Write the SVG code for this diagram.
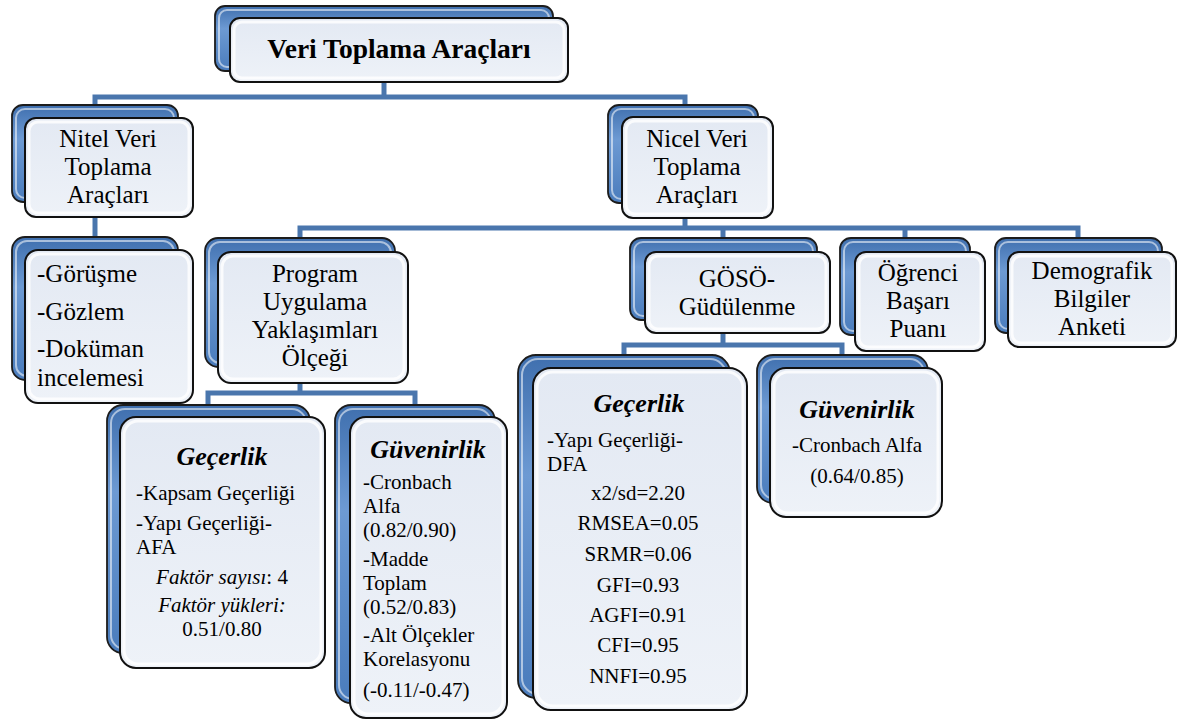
<svg xmlns="http://www.w3.org/2000/svg" width="1178" height="720" viewBox="0 0 1178 720">
<defs>
<linearGradient id="bg" x1="0" y1="0" x2="0" y2="1">
<stop offset="0" stop-color="#3f6fae"/>
<stop offset="0.35" stop-color="#6d9ad3"/>
<stop offset="1" stop-color="#4a7cbc"/>
</linearGradient>
<linearGradient id="fg" x1="0" y1="0" x2="0" y2="1">
<stop offset="0" stop-color="#e3e9f3"/>
<stop offset="1" stop-color="#eef2f8"/>
</linearGradient>
<style>
.bk{fill:url(#bg);stroke:#1c1c1c;stroke-width:1.8}
.bkh{fill:none;stroke:#ffffff;stroke-opacity:0.55;stroke-width:2}
.fr{fill:url(#fg);stroke:#111111;stroke-width:2}
.frh{fill:none;stroke:#ffffff;stroke-opacity:0.8;stroke-width:3}
.cn{fill:none;stroke:#4a76ad;stroke-width:5;stroke-linejoin:miter}
.tx{font-family:'Liberation Serif','Times New Roman',Times,'Tinos','Nimbus Roman','FreeSerif','Noto Serif','DejaVu Serif',serif;fill:#000000}
.t{font-size:25px;text-anchor:middle}
.l{font-size:25px}
.s{font-size:21px}
.sc{font-size:21px;text-anchor:middle}
.h{font-size:26px;font-weight:bold;font-style:italic;text-anchor:middle}
.top{font-size:27.5px;font-weight:bold;text-anchor:middle}
</style>
</defs>
<rect width="1178" height="720" fill="#ffffff"/>
<g id="connectors">
<path class="cn" d="M384 82 V97"/>
<path class="cn" d="M95 105 V97 H685 V105"/>
<path class="cn" d="M95 217 V238"/>
<path class="cn" d="M685 218 V228"/>
<path class="cn" d="M300 238 V228 H1078 V238"/>
<path class="cn" d="M723 228 V238"/>
<path class="cn" d="M905 228 V238"/>
<path class="cn" d="M300 383 V393"/>
<path class="cn" d="M208 405 V393 H415 V405"/>
<path class="cn" d="M723 333 V345"/>
<path class="cn" d="M624 355 V345 H842 V355"/>
</g>
<g class="tx">
<g id="n-root">
<rect class="bk" x="215" y="6" width="338" height="65" rx="10"/>
<rect class="bkh" x="219" y="10" width="330" height="57" rx="8"/>
<rect class="fr" x="230" y="18" width="338" height="64" rx="10"/>
<rect class="frh" x="234" y="22" width="330" height="56" rx="8"/>
<text class="top" x="399" y="58">Veri Toplama Araçları</text>
</g>
<g id="n-nitel">
<rect class="bk" x="12" y="105" width="166" height="97" rx="11"/>
<rect class="bkh" x="16" y="109" width="158" height="89" rx="9"/>
<rect class="fr" x="25" y="118" width="168" height="99" rx="11"/>
<rect class="frh" x="29" y="122" width="160" height="91" rx="9"/>
<text class="t" x="108" y="147">Nitel Veri</text>
<text class="t" x="108" y="175">Toplama</text>
<text class="t" x="108" y="203">Araçları</text>
</g>
<g id="n-nicel">
<rect class="bk" x="608" y="105" width="150" height="98" rx="11"/>
<rect class="bkh" x="612" y="109" width="142" height="90" rx="9"/>
<rect class="fr" x="622" y="117" width="151" height="101" rx="11"/>
<rect class="frh" x="626" y="121" width="143" height="93" rx="9"/>
<text class="t" x="697" y="147">Nicel Veri</text>
<text class="t" x="697" y="175">Toplama</text>
<text class="t" x="697" y="203">Araçları</text>
</g>
<g id="n-nitel-list">
<rect class="bk" x="12" y="237" width="166" height="143" rx="13"/>
<rect class="bkh" x="16" y="241" width="158" height="135" rx="11"/>
<rect class="fr" x="25" y="250" width="168" height="153" rx="13"/>
<rect class="frh" x="29" y="254" width="160" height="145" rx="11"/>
<text class="l" x="37" y="282">-Görüşme</text>
<text class="l" x="37" y="320">-Gözlem</text>
<text class="l" x="37" y="357">-Doküman</text>
<text class="l" x="37" y="386">incelemesi</text>
</g>
<g id="n-program">
<rect class="bk" x="205" y="238" width="190" height="129" rx="13"/>
<rect class="bkh" x="209" y="242" width="182" height="121" rx="11"/>
<rect class="fr" x="218" y="252" width="190" height="131" rx="13"/>
<rect class="frh" x="222" y="256" width="182" height="123" rx="11"/>
<text class="t" x="315" y="282">Program</text>
<text class="t" x="315" y="310">Uygulama</text>
<text class="t" x="315" y="338">Yaklaşımları</text>
<text class="t" x="315" y="366">Ölçeği</text>
</g>
<g id="n-goso">
<rect class="bk" x="630" y="238" width="187" height="82" rx="11"/>
<rect class="bkh" x="634" y="242" width="179" height="74" rx="9"/>
<rect class="fr" x="645" y="252" width="185" height="81" rx="11"/>
<rect class="frh" x="649" y="256" width="177" height="73" rx="9"/>
<text class="t" x="737" y="287">GÖSÖ-</text>
<text class="t" x="737" y="315">Güdülenme</text>
</g>
<g id="n-ogrenci">
<rect class="bk" x="840" y="238" width="130" height="97" rx="11"/>
<rect class="bkh" x="844" y="242" width="122" height="89" rx="9"/>
<rect class="fr" x="855" y="252" width="130" height="99" rx="11"/>
<rect class="frh" x="859" y="256" width="122" height="91" rx="9"/>
<text class="t" x="918" y="281">Öğrenci</text>
<text class="t" x="918" y="309">Başarı</text>
<text class="t" x="918" y="337">Puanı</text>
</g>
<g id="n-demografik">
<rect class="bk" x="995" y="238" width="167" height="95" rx="11"/>
<rect class="bkh" x="999" y="242" width="159" height="87" rx="9"/>
<rect class="fr" x="1008" y="252" width="168" height="95" rx="11"/>
<rect class="frh" x="1012" y="256" width="160" height="87" rx="9"/>
<text class="t" x="1092" y="279">Demografik</text>
<text class="t" x="1092" y="307">Bilgiler</text>
<text class="t" x="1092" y="335">Anketi</text>
</g>
<g id="n-pua-gecerlik">
<rect class="bk" x="107" y="405" width="203" height="248" rx="16"/>
<rect class="bkh" x="111" y="409" width="195" height="240" rx="14"/>
<rect class="fr" x="120" y="417" width="205" height="251" rx="16"/>
<rect class="frh" x="124" y="421" width="197" height="243" rx="14"/>
<text class="h" x="222" y="465">Geçerlik</text>
<text class="s" x="136" y="500">-Kapsam Geçerliği</text>
<text class="s" x="136" y="530">-Yapı Geçerliği-</text>
<text class="s" x="136" y="554">AFA</text>
<text class="sc" x="222" y="584"><tspan font-style="italic">Faktör sayısı</tspan>: 4</text>
<text class="sc" x="222" y="612" font-style="italic">Faktör yükleri:</text>
<text class="sc" x="222" y="636">0.51/0.80</text>
</g>
<g id="n-pua-guvenirlik">
<rect class="bk" x="335" y="405" width="160" height="298" rx="16"/>
<rect class="bkh" x="339" y="409" width="152" height="290" rx="14"/>
<rect class="fr" x="350" y="417" width="157" height="301" rx="16"/>
<rect class="frh" x="354" y="421" width="149" height="293" rx="14"/>
<text class="h" x="428" y="458">Güvenirlik</text>
<text class="s" x="363" y="489">-Cronbach</text>
<text class="s" x="363" y="513">Alfa</text>
<text class="s" x="363" y="537">(0.82/0.90)</text>
<text class="s" x="363" y="566">-Madde</text>
<text class="s" x="363" y="590">Toplam</text>
<text class="s" x="363" y="614">(0.52/0.83)</text>
<text class="s" x="363" y="642">-Alt Ölçekler</text>
<text class="s" x="363" y="666">Korelasyonu</text>
<text class="s" x="363" y="697">(-0.11/-0.47)</text>
</g>
<g id="n-goso-gecerlik">
<rect class="bk" x="518" y="355" width="212" height="343" rx="18"/>
<rect class="bkh" x="522" y="359" width="204" height="335" rx="16"/>
<rect class="fr" x="533" y="368" width="214" height="342" rx="18"/>
<rect class="frh" x="537" y="372" width="206" height="334" rx="16"/>
<text class="h" x="639" y="412">Geçerlik</text>
<text class="s" x="547" y="447">-Yapı Geçerliği-</text>
<text class="s" x="547" y="471">DFA</text>
<text class="sc" x="638" y="500">x2/sd=2.20</text>
<text class="sc" x="638" y="530">RMSEA=0.05</text>
<text class="sc" x="638" y="561">SRMR=0.06</text>
<text class="sc" x="638" y="592">GFI=0.93</text>
<text class="sc" x="638" y="622">AGFI=0.91</text>
<text class="sc" x="638" y="652">CFI=0.95</text>
<text class="sc" x="638" y="683">NNFI=0.95</text>
</g>
<g id="n-goso-guvenirlik">
<rect class="bk" x="757" y="355" width="171" height="148" rx="16"/>
<rect class="bkh" x="761" y="359" width="163" height="140" rx="14"/>
<rect class="fr" x="770" y="368" width="172" height="149" rx="16"/>
<rect class="frh" x="774" y="372" width="164" height="141" rx="14"/>
<text class="h" x="857" y="418">Güvenirlik</text>
<text class="sc" x="857" y="452">-Cronbach Alfa</text>
<text class="sc" x="857" y="483">(0.64/0.85)</text>
</g>
</g>
</svg>
